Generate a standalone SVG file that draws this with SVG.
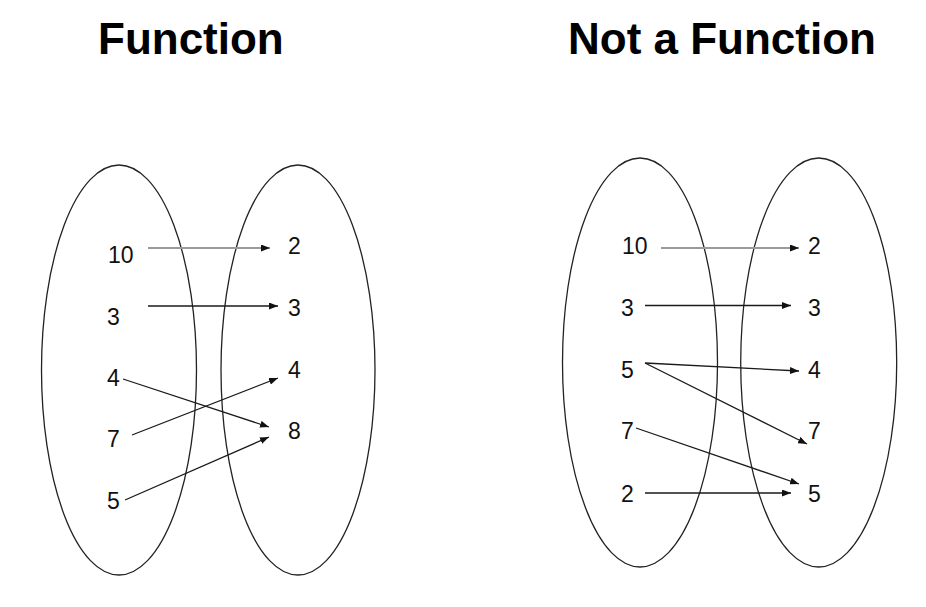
<svg xmlns="http://www.w3.org/2000/svg" width="926" height="607" viewBox="0 0 926 607">
<style>
.title{font-family:"Liberation Sans",Arial,sans-serif;font-weight:bold;font-size:44px;fill:#000}
.lbl{font-family:"Liberation Sans",Arial,sans-serif;font-size:23px;fill:#111}
.set{fill:none;stroke:#222;stroke-width:1.3}
.arr{stroke:#1a1a1a;stroke-width:1.3;fill:none;marker-end:url(#ah)}
.arr.gray{stroke:#9a9a9a;stroke-width:2;marker-end:url(#ah)}
</style>
<defs>
<marker id="ah" viewBox="0 0 10 10" refX="10" refY="5" markerWidth="9" markerHeight="7" markerUnits="userSpaceOnUse" orient="auto" preserveAspectRatio="none">
<path d="M0,0 L10,5 L0,10 z" fill="#111"/>
</marker>
</defs>
<rect width="926" height="607" fill="#fff"/>
<text class="title" x="98" y="54">Function</text>
<text class="title" x="568" y="54">Not a Function</text>

<g id="func-domain">
<ellipse class="set" cx="119" cy="370" rx="77.5" ry="205"/>
<text class="lbl" x="108" y="263">10</text>
<text class="lbl" x="107" y="325">3</text>
<text class="lbl" x="107" y="386">4</text>
<text class="lbl" x="107" y="447">7</text>
<text class="lbl" x="107" y="509">5</text>
</g>
<g id="func-range">
<ellipse class="set" cx="298" cy="370" rx="77" ry="205"/>
<text class="lbl" x="288" y="254">2</text>
<text class="lbl" x="288" y="316">3</text>
<text class="lbl" x="288" y="378">4</text>
<text class="lbl" x="288" y="439">8</text>
</g>

<g id="nf-domain">
<ellipse class="set" cx="640" cy="362.5" rx="77.5" ry="204.5"/>
<text class="lbl" x="622" y="254">10</text>
<text class="lbl" x="621" y="316">3</text>
<text class="lbl" x="621" y="378">5</text>
<text class="lbl" x="621" y="439">7</text>
<text class="lbl" x="621" y="502">2</text>
</g>
<g id="nf-range">
<ellipse class="set" cx="818.7" cy="362.5" rx="78" ry="204.5"/>
<text class="lbl" x="808" y="254">2</text>
<text class="lbl" x="808" y="316">3</text>
<text class="lbl" x="808" y="378">4</text>
<text class="lbl" x="808" y="439">7</text>
<text class="lbl" x="808" y="502">5</text>
</g>

<g id="connectors">
<line class="arr gray" x1="148" y1="248" x2="270" y2="248"/>
<line class="arr" x1="148" y1="306" x2="278" y2="306"/>
<line class="arr" x1="123" y1="379" x2="269" y2="427"/>
<line class="arr" x1="132" y1="435" x2="278" y2="378"/>
<line class="arr" x1="125" y1="500" x2="269" y2="437"/>

<line class="arr gray" x1="661" y1="248" x2="799" y2="248"/>
<line class="arr" x1="645" y1="305.5" x2="791" y2="305.5"/>
<line class="arr" x1="645" y1="363" x2="799" y2="371"/>
<line class="arr" x1="645" y1="363" x2="807" y2="444"/>
<line class="arr" x1="636" y1="428" x2="799" y2="484"/>
<line class="arr" x1="645" y1="493" x2="791" y2="493"/>
</g>
</svg>
